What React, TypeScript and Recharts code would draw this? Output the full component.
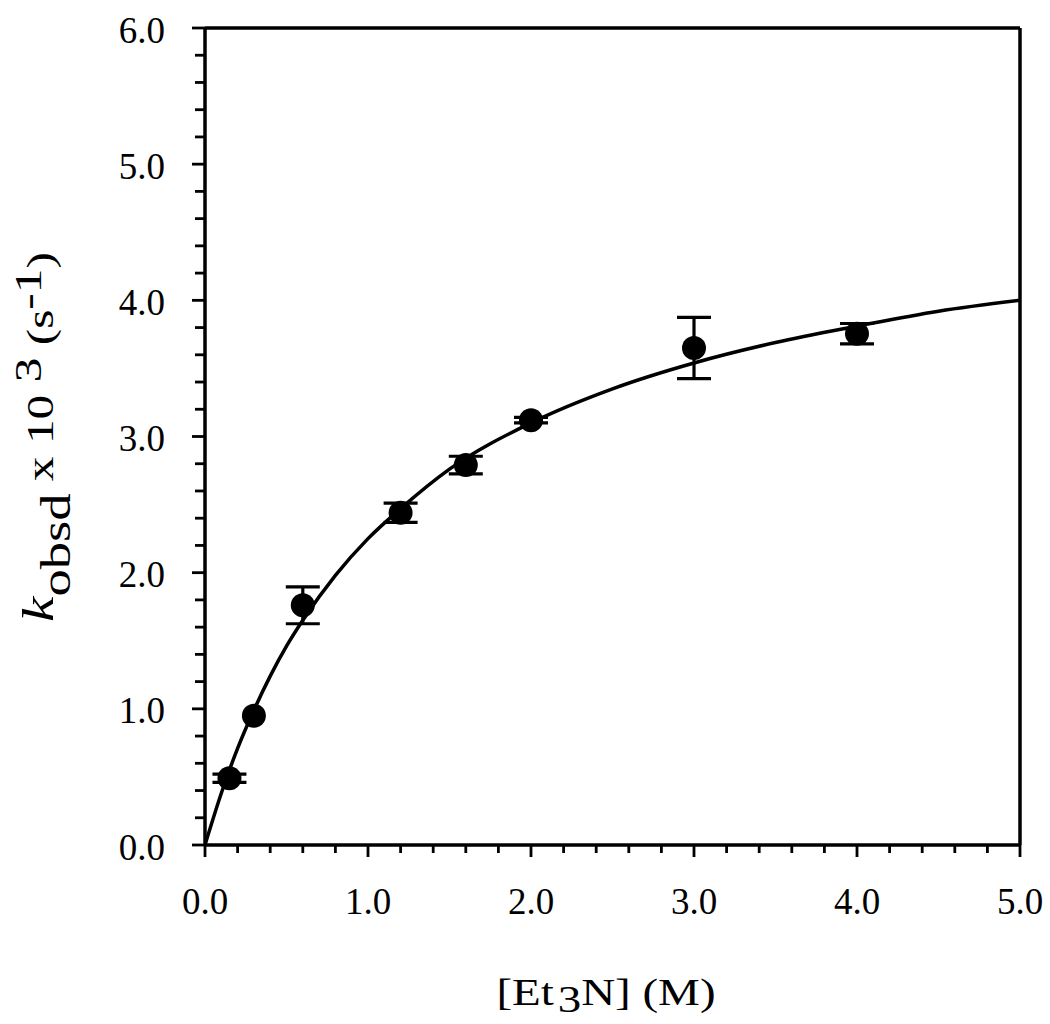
import {
  ComposedChart,
  Line,
  Scatter,
  XAxis,
  YAxis,
  ErrorBar,
  ReferenceLine,
} from 'recharts';

// measured points: [Et3N] (M) vs kobsd x 10^3 (s^-1)
const concentrations = [0.15, 0.3, 0.6, 1.2, 1.6, 2.0, 3.0, 4.0];
const rates = [0.49, 0.95, 1.76, 2.44, 2.79, 3.12, 3.65, 3.755];
const rateErrors = [0.03, 0, 0.135, 0.07, 0.065, 0.02, 0.225, 0.075];

// fitted curve
const fitX = [0, 0.1, 0.2, 0.3, 0.4, 0.5, 0.6, 0.8, 1.0, 1.2, 1.5, 2.0, 2.5, 3.0, 3.5, 4.0, 4.5, 5.0];
const fitY = [0, 0.38, 0.71, 0.99, 1.24, 1.46, 1.65, 1.98, 2.25, 2.47, 2.76, 3.1, 3.35, 3.54, 3.69, 3.81, 3.92, 4.0];

const xTicks = [0, 0.2, 0.4, 0.6, 0.8, 1, 1.2, 1.4, 1.6, 1.8, 2, 2.2, 2.4, 2.6, 2.8, 3, 3.2, 3.4, 3.6, 3.8, 4, 4.2, 4.4, 4.6, 4.8, 5];
const yTicks = [
  0, 0.2, 0.4, 0.6, 0.8, 1, 1.2, 1.4, 1.6, 1.8, 2, 2.2, 2.4, 2.6, 2.8, 3, 3.2, 3.4, 3.6, 3.8, 4,
  4.2, 4.4, 4.6, 4.8, 5, 5.2, 5.4, 5.6, 5.8, 6,
];

const points = concentrations.map((x, i) => ({ x, y: rates[i], err: rateErrors[i] }));
const fit = fitX.map((x, i) => ({ x, fit: fitY[i] }));

const FONT = '"Liberation Serif", "Times New Roman", serif';
const textStyle = { fontFamily: FONT, fill: '#000' };

const isMajor = (v: number) => Math.abs(v - Math.round(v)) < 1e-6;

const XTick = (props: any) => {
  const { x, y, payload } = props;
  const v = payload.value as number;
  const major = isMajor(v);
  return (
    <g>
      <line x1={x} x2={x} y1={y} y2={y + (major ? 12 : 8)} stroke="#000" strokeWidth={2.8} />
      {major && (
        <text x={x} y={y + 69} textAnchor="middle" fontSize={37} style={textStyle}>
          {v.toFixed(1)}
        </text>
      )}
    </g>
  );
};

const YTick = (props: any) => {
  const { x, y, payload } = props;
  const v = payload.value as number;
  const major = isMajor(v);
  return (
    <g>
      <line x1={x - (major ? 13 : 10)} x2={x} y1={y} y2={y} stroke="#000" strokeWidth={2.8} />
      {major && (
        <text x={165} y={y + 14.5} textAnchor="end" fontSize={37} style={textStyle}>
          {v.toFixed(1)}
        </text>
      )}
    </g>
  );
};

const Dot = (props: any) => <circle cx={props.cx} cy={props.cy} r={12} fill="#000" />;

const XTitle = () => (
  <g transform="translate(606,1005) scale(1.27,1)">
    <text textAnchor="middle" fontSize={37} style={textStyle}>
      [Et
      <tspan dx={3} dy={7}>3</tspan>
      <tspan dy={-7}>N] (M)</tspan>
    </text>
  </g>
);

const YTitle = () => (
  <g transform="translate(53,622) rotate(-90) scale(1.3,1)">
    <text fontSize={38} style={textStyle}>
      <tspan fontStyle="italic" fontSize={44}>k</tspan>
      <tspan fontSize={42} dy={17}>obsd</tspan>
      <tspan dy={-17}>{'\u00a0x 10'}</tspan>
      <tspan dy={-12}>{'\u00a03'}</tspan>
      <tspan dy={12}>{'\u00a0(s'}</tspan>
      <tspan dy={-12}>-1</tspan>
      <tspan dy={12}>)</tspan>
    </text>
  </g>
);

export default function App() {
  return (
    <div style={{ position: 'absolute', left: 0, top: 0, width: 1050, height: 1024, background: '#fff' }}>
      <ComposedChart width={1050} height={1024} margin={{ top: 28, right: 30, bottom: 0, left: 0 }}>
        <XAxis
          dataKey="x"
          type="number"
          domain={[0, 5]}
          allowDataOverflow
          ticks={xTicks}
          interval={0}
          height={179}
          tickSize={0}
          tickMargin={0}
          tickLine={false}
          tick={<XTick />}
          axisLine={{ stroke: '#000', strokeWidth: 3.5 }}
          label={{ content: () => <XTitle /> }}
        />
        <YAxis
          type="number"
          domain={[0, 6]}
          allowDataOverflow
          ticks={yTicks}
          interval={0}
          width={205}
          tickSize={0}
          tickMargin={0}
          tickLine={false}
          tick={<YTick />}
          axisLine={{ stroke: '#000', strokeWidth: 3.5 }}
          label={{ content: () => <YTitle /> }}
        />
        <ReferenceLine y={6} stroke="#000" strokeWidth={3.5} />
        <ReferenceLine x={5} stroke="#000" strokeWidth={3.5} />
        <Line
          data={fit}
          dataKey="fit"
          type="monotone"
          stroke="#000"
          strokeWidth={3.5}
          dot={false}
          activeDot={false}
          isAnimationActive={false}
        />
        <Scatter data={points} dataKey="y" shape={<Dot />} isAnimationActive={false}>
          <ErrorBar dataKey="err" direction="y" width={17} stroke="#000" strokeWidth={3.2} isAnimationActive={false} />
        </Scatter>
      </ComposedChart>
    </div>
  );
}
